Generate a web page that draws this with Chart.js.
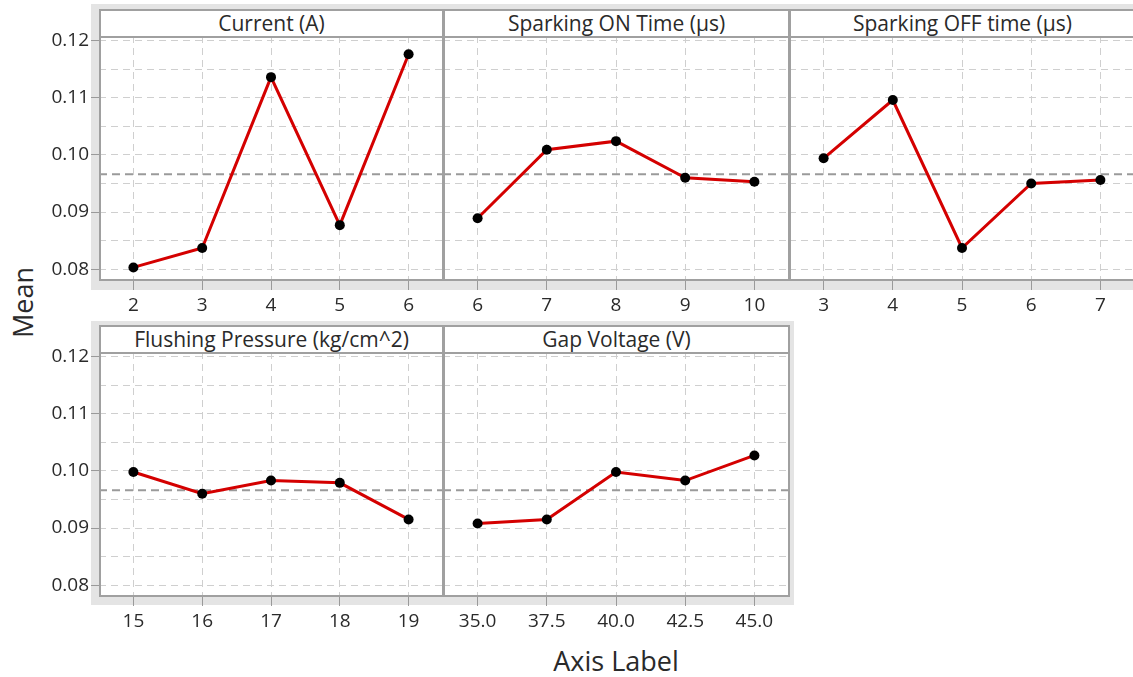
<!DOCTYPE html>
<html>
<head>
<meta charset="utf-8">
<script src="https://cdn.jsdelivr.net/npm/chart.js@4.4.1/dist/chart.umd.min.js"></script>
<style>
  body { margin: 0; width: 1133px; height: 677px; overflow: hidden; background: #fff; position: relative; font-family: 'Open Sans', sans-serif; }
  .frame { position: absolute; background: #e4e4e4; }
  .plot { position: absolute; background: #fff; }
  .box { position: absolute; border: 2px solid #a0a0a0; box-sizing: border-box; pointer-events: none; }
  .head { position: absolute; background: #fff; border: 2px solid #a0a0a0; box-sizing: border-box; text-align: center; font-size: 21px; color: #2a2a2a; line-height: 24px; }
  canvas { position: absolute; }
  .label { position: absolute; font-size: 27px; color: #2a2a2a; }
</style>
</head>
<body>
<div class="label" style="left:516px; top:642px; width:200px; text-align:center;">Axis Label</div>
<div class="label" style="left:-78px; top:284px; width:200px; text-align:center; transform:rotate(-90deg);">Mean</div>
<script>
// main effects data
const currentX = [2, 3, 4, 5, 6];
const currentY = [0.0803, 0.0837, 0.1136, 0.0877, 0.1176];
const onTimeX = [6, 7, 8, 9, 10];
const onTimeY = [0.0889, 0.1009, 0.1024, 0.0960, 0.0953];
const offTimeX = [3, 4, 5, 6, 7];
const offTimeY = [0.0994, 0.1096, 0.0837, 0.0950, 0.0956];
const pressureX = [15, 16, 17, 18, 19];
const pressureY = [0.0998, 0.0960, 0.0983, 0.0979, 0.0915];
const voltageX = [35, 37.5, 40, 42.5, 45];
const voltageY = [0.0908, 0.0915, 0.0998, 0.0983, 0.1027];

const meanY = 0.0966;
const yGrid = [0.08, 0.085, 0.09, 0.095, 0.10, 0.105, 0.11, 0.115, 0.12];
const yMin = 0.0781, yMax = 0.1208;

const titles = ['Current (A)', 'Sparking ON Time (µs)', 'Sparking OFF time (µs)', 'Flushing Pressure (kg/cm^2)', 'Gap Voltage (V)'];

// layout of the panels (plot area in page pixels)
const panels = [
  { xs: currentX, ys: currentY, title: titles[0], x: 99, y: 36, w: 344, h: 244, left: true, dec: 0 },
  { xs: onTimeX, ys: onTimeY, title: titles[1], x: 443, y: 36, w: 346, h: 244, left: false, dec: 0 },
  { xs: offTimeX, ys: offTimeY, title: titles[2], x: 789, y: 36, w: 346, h: 244, left: false, dec: 0 },
  { xs: pressureX, ys: pressureY, title: titles[3], x: 99, y: 352, w: 344, h: 244, left: true, dec: 0 },
  { xs: voltageX, ys: voltageY, title: titles[4], x: 443, y: 352, w: 346, h: 244, left: false, dec: 1 }
];

function div(cls, l, t, w, h, text) {
  const d = document.createElement('div');
  d.className = cls;
  d.style.left = l + 'px'; d.style.top = t + 'px';
  d.style.width = w + 'px'; d.style.height = h + 'px';
  if (text) d.textContent = text;
  document.body.appendChild(d);
  return d;
}

// grey frames behind each row
div('frame', 91, 4, 1050, 286);
div('frame', 91, 321, 703, 284);

const isMajor = v => Math.abs(v * 100 - Math.round(v * 100)) < 1e-6;

panels.forEach(p => {
  const yW = p.left ? 60 : 0;
  const xH = 44;
  const padTop = 16;
  div('plot', p.x, p.y, p.w, p.h);

  const c = document.createElement('canvas');
  c.width = p.w + yW;
  c.height = p.h + xH + padTop;
  c.style.left = (p.x - yW) + 'px';
  c.style.top = (p.y - padTop) + 'px';
  document.body.appendChild(c);

  const step = p.xs[1] - p.xs[0];
  const xMin = p.xs[0] - step / 2;
  const xMax = p.xs[p.xs.length - 1] + step / 2;

  new Chart(c, {
    type: 'line',
    data: {
      datasets: [{
        data: p.xs.map((x, i) => ({ x: x, y: p.ys[i] })),
        borderColor: '#d40000',
        borderWidth: 3,
        pointRadius: 5,
        pointBackgroundColor: '#000',
        pointBorderWidth: 0,
        tension: 0
      }, {
        data: [{ x: xMin, y: meanY }, { x: xMax, y: meanY }],
        borderColor: '#9a9a9a',
        borderWidth: 2,
        borderDash: [8, 5],
        pointRadius: 0
      }]
    },
    options: {
      responsive: false,
      animation: false,
      layout: { padding: { top: padTop, left: 0, right: 0, bottom: 0 }, autoPadding: false },
      plugins: { legend: { display: false }, tooltip: { enabled: false } },
      scales: {
        x: {
          type: 'linear',
          min: xMin,
          max: xMax,
          afterBuildTicks: s => { s.ticks = p.xs.map(v => ({ value: v })); },
          afterFit: s => { s.height = xH; s.paddingLeft = 0; s.paddingRight = 0; },
          grid: { color: '#cfcfcf', lineWidth: 1, tickLength: 10, tickColor: '#9a9a9a' },
          border: { display: false, dash: [7, 5] },
          ticks: {
            padding: 4,
            color: '#2a2a2a',
            font: { family: 'Open Sans', size: 19 },
            maxRotation: 0,
            callback: v => v.toFixed(p.dec)
          }
        },
        y: {
          min: yMin,
          max: yMax,
          afterBuildTicks: s => { s.ticks = yGrid.map(v => ({ value: v })); },
          afterFit: s => { s.width = yW; s.paddingTop = 0; s.paddingBottom = 0; },
          grid: {
            color: '#cfcfcf',
            lineWidth: 1,
            drawTicks: p.left,
            tickLength: 8,
            tickColor: ctx => (ctx.tick && isMajor(ctx.tick.value)) ? '#9a9a9a' : 'rgba(0,0,0,0)'
          },
          border: { display: false, dash: [7, 5] },
          ticks: {
            display: p.left,
            padding: 2,
            color: '#2a2a2a',
            font: { family: 'Open Sans', size: 19 },
            callback: v => isMajor(v) ? v.toFixed(2) : ''
          }
        }
      }
    }
  });

  // panel border and title strip
  div('box', p.x, p.y - 27, p.w + 1, p.h + 28);
  div('head', p.x, p.y - 27, p.w + 1, 29, p.title);
});
</script>
</body>
</html>
